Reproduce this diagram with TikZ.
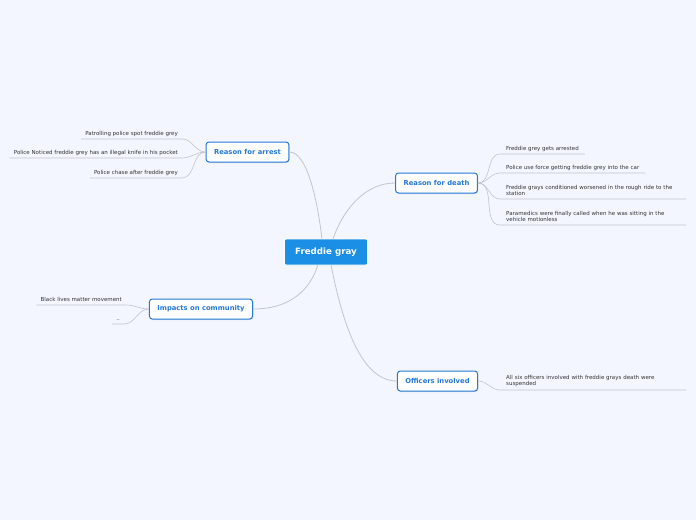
\documentclass[tikz,border=0pt]{standalone}
\usepackage{fontspec}
\setmainfont{DejaVu Sans}
\usepackage{xcolor}
\usepackage{tikz}
\usetikzlibrary{shadows}
\definecolor{bgcol}{RGB}{243,246,254}
\definecolor{topicblue}{RGB}{27,143,230}
\definecolor{mainblue}{RGB}{36,120,214}
\definecolor{linegray}{RGB}{192,197,206}
\tikzset{
  centre/.style={rectangle, draw=white, line width=0.6pt, rounded corners=2pt, fill=topicblue,
                 text=white, font=\fontsize{8.7}{9.5}\selectfont\bfseries,
                 minimum width=83pt, minimum height=26pt},
  mainbox/.style={rectangle, draw=mainblue, line width=1pt, rounded corners=3pt, fill=white,
                  text=mainblue, font=\fontsize{6.8}{7.8}\selectfont\bfseries,
                  minimum height=20pt, inner xsep=8pt,
                  drop shadow={shadow xshift=0.8pt, shadow yshift=-1pt, opacity=0.2}},
  leaf/.style={inner xsep=4pt, inner ysep=2.5pt, text depth=1.3pt,
               font=\fontsize{5.5}{6.3}\selectfont, text=black!80},
  wideleaf/.style={leaf, text depth={}, inner ysep=2.8pt, inner xsep=6pt,
                   text width=174pt, align=left},
  branch/.style={draw=linegray, line width=0.8pt},
  twig/.style={draw=linegray, line width=0.6pt}
}
\begin{document}
\begin{tikzpicture}[x=1pt, y=-1pt]
  \fill[bgcol] (0,0) rectangle (696,520);

  % main topics
  \node[centre] (fg) at (326,252) {Freddie gray};
  \node[mainbox] (arrest) at (247.5,152) {Reason for arrest};
  \node[mainbox] (death) at (436.5,183) {Reason for death};
  \node[mainbox] (impact) at (201,309) {Impacts on community};
  \node[mainbox] (officers) at (437.5,381) {Officers involved};

  % leaves
  \node[leaf, anchor=south east] (a1) at (182,139) {Patrolling police spot freddie grey};
  \node[leaf, anchor=south east] (a2) at (182,158) {Police Noticed freddie grey has an illegal knife in his pocket};
  \node[leaf, anchor=south east] (a3) at (182,178) {Police chase after freddie grey};

  \node[leaf, inner xsep=6pt, anchor=south west] (d1) at (500,154) {Freddie grey gets arrested};
  \node[leaf, inner xsep=6pt, anchor=south west] (d2) at (500,173) {Police use force getting freddie grey into the car};
  \node[wideleaf, anchor=south west] (d3) at (500,199) {Freddie grays conditioned worsened in the rough ride to the\\station};
  \node[wideleaf, anchor=south west] (d4) at (500,225) {Paramedics were finally called when he was sitting in the\\vehicle motionless};

  \node[leaf, anchor=south east] (c1) at (126,305) {Black lives matter movement};
  \node[leaf, anchor=south east] (c2) at (124,324) {..};

  \node[wideleaf, anchor=south west] (o1) at (500,390) {All six officers involved with freddie grays death were\\suspended};

  % branches from the centre
  \draw[branch] (arrest.east) .. controls (308,152) and (318,205) .. (fg.107);
  \draw[branch] (death.west) .. controls (368,183) and (345,205) .. (fg.62);
  \draw[branch] (impact.east) .. controls (290,309) and (310,290) .. (fg.238);
  \draw[branch] (officers.west) .. controls (360,381) and (342,320) .. (fg.291);

  % twigs to the leaves
  \foreach \l in {a1,a2,a3}
    \draw[twig] (arrest.west) to[out=180,in=0] (\l.south east) -- (\l.south west);
  \foreach \l in {d1,d2,d3,d4}
    \draw[twig] (death.east) to[out=0,in=180] (\l.south west) -- (\l.south east);
  \foreach \l in {c1,c2}
    \draw[twig] (impact.west) to[out=180,in=0] (\l.south east) -- (\l.south west);
  \draw[twig] (officers.east) to[out=0,in=180] (o1.south west) -- (o1.south east);
\end{tikzpicture}
\end{document}
